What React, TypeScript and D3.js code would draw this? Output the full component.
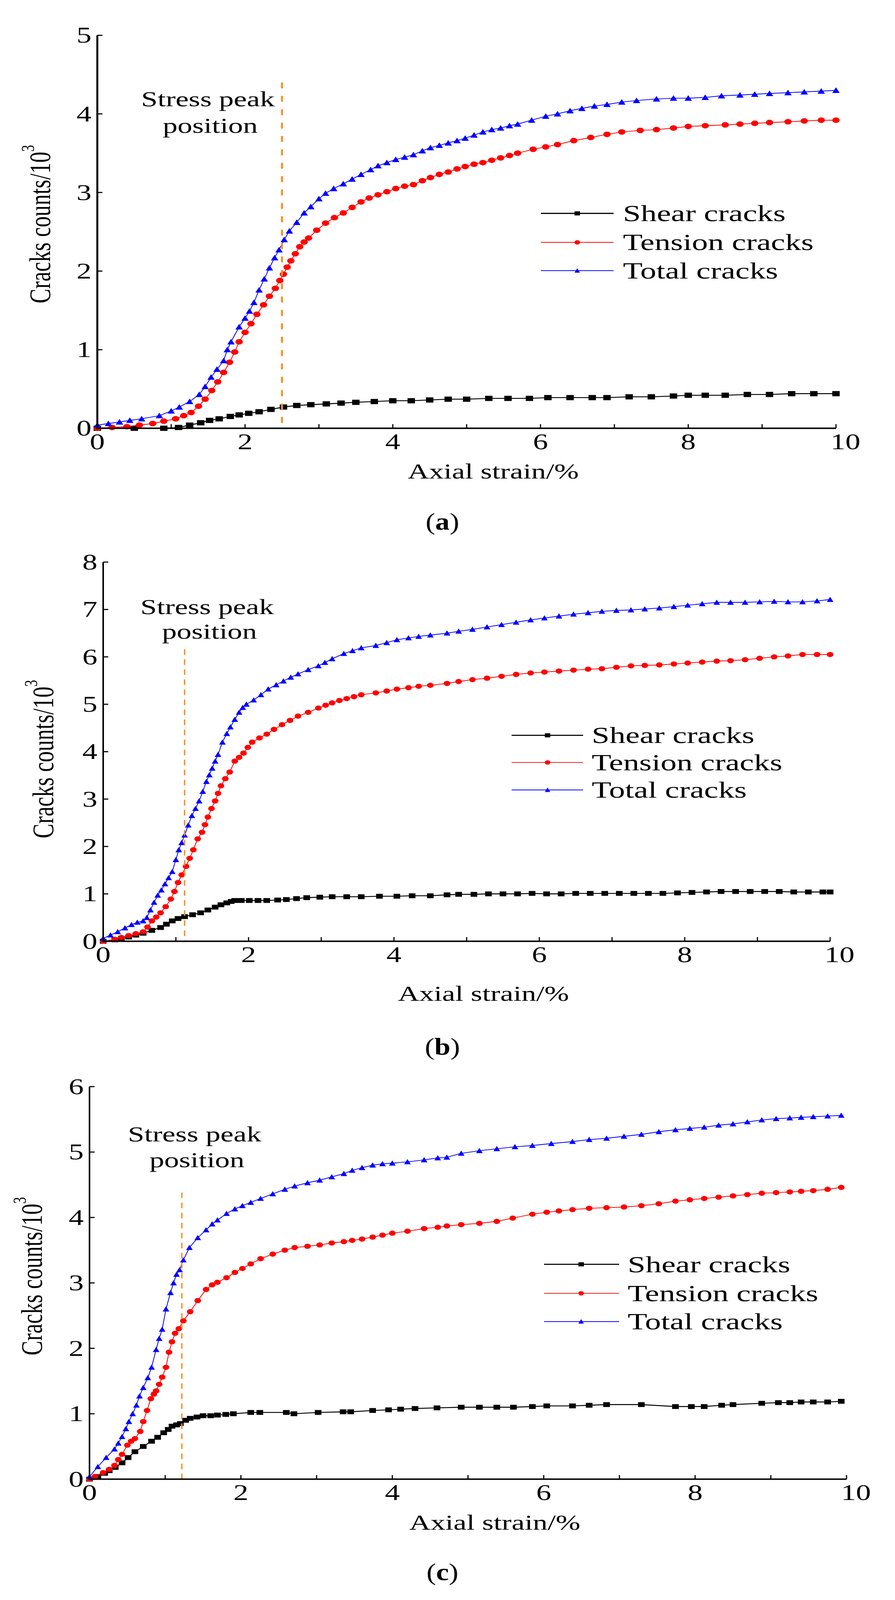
import * as d3 from 'd3';

type Pt = [number, number];

// ---- panel (a) ----
const aShear: Pt[] = [[0,0],[0.5,0],[0.9,0],[1.1,0.01],[1.25,0.04],[1.4,0.07],[1.52,0.1],[1.65,0.12],[1.8,0.15],[1.92,0.17],[2.05,0.19],[2.19,0.21],[2.35,0.24],[2.52,0.27],[2.7,0.29],[2.89,0.3],[3.1,0.31],[3.3,0.32],[3.5,0.33],[3.75,0.34],[4.0,0.35],[4.25,0.35],[4.5,0.36],[4.75,0.37],[5.0,0.37],[5.3,0.38],[5.56,0.38],[5.85,0.38],[6.1,0.39],[6.4,0.39],[6.7,0.39],[6.9,0.39],[7.2,0.4],[7.5,0.4],[7.8,0.41],[8.0,0.42],[8.23,0.42],[8.5,0.42],[8.8,0.43],[9.1,0.43],[9.4,0.44],[9.7,0.44],[10,0.44]];
const aTension: Pt[] = [[0,0],[0.2,0.01],[0.4,0.02],[0.57,0.04],[0.75,0.06],[0.9,0.09],[1.06,0.12],[1.17,0.16],[1.27,0.2],[1.37,0.28],[1.46,0.37],[1.55,0.48],[1.63,0.59],[1.71,0.71],[1.79,0.84],[1.86,0.97],[1.92,1.1],[2.0,1.22],[2.08,1.33],[2.16,1.45],[2.25,1.57],[2.33,1.68],[2.41,1.78],[2.47,1.88],[2.52,1.96],[2.57,2.05],[2.62,2.13],[2.68,2.22],[2.74,2.31],[2.8,2.37],[2.86,2.42],[2.97,2.52],[3.09,2.61],[3.21,2.68],[3.33,2.74],[3.45,2.81],[3.57,2.88],[3.68,2.93],[3.8,2.97],[3.92,3.01],[4.04,3.05],[4.16,3.08],[4.28,3.1],[4.4,3.15],[4.51,3.19],[4.63,3.23],[4.75,3.26],[4.87,3.3],[4.98,3.33],[5.1,3.36],[5.22,3.38],[5.34,3.41],[5.46,3.44],[5.58,3.47],[5.69,3.5],[5.9,3.55],[6.07,3.58],[6.23,3.61],[6.45,3.66],[6.68,3.7],[6.9,3.74],[7.1,3.77],[7.35,3.79],[7.57,3.8],[7.8,3.82],[8.0,3.84],[8.23,3.85],[8.5,3.86],[8.7,3.87],[8.9,3.88],[9.1,3.89],[9.35,3.9],[9.57,3.91],[9.8,3.92],[10,3.92]];
const aTotal: Pt[] = [[0,0.04],[0.15,0.06],[0.3,0.08],[0.44,0.1],[0.6,0.12],[0.84,0.16],[1.0,0.22],[1.11,0.27],[1.25,0.34],[1.38,0.43],[1.46,0.53],[1.54,0.65],[1.62,0.75],[1.71,0.86],[1.76,1.0],[1.81,1.1],[1.92,1.29],[2.0,1.4],[2.06,1.49],[2.12,1.6],[2.19,1.76],[2.26,1.9],[2.33,2.04],[2.4,2.17],[2.46,2.27],[2.53,2.4],[2.6,2.51],[2.7,2.62],[2.8,2.74],[2.89,2.82],[3.0,2.92],[3.09,2.99],[3.2,3.05],[3.33,3.11],[3.45,3.17],[3.57,3.23],[3.7,3.29],[3.8,3.34],[3.92,3.38],[4.04,3.42],[4.16,3.45],[4.28,3.48],[4.4,3.53],[4.51,3.57],[4.63,3.6],[4.75,3.63],[4.87,3.66],[4.98,3.69],[5.1,3.73],[5.22,3.77],[5.34,3.8],[5.46,3.82],[5.58,3.85],[5.69,3.87],[5.88,3.92],[6.07,3.97],[6.23,4.0],[6.4,4.04],[6.56,4.07],[6.73,4.1],[6.9,4.12],[7.1,4.15],[7.3,4.17],[7.57,4.19],[7.8,4.2],[8.0,4.2],[8.23,4.21],[8.45,4.23],[8.7,4.24],[8.9,4.25],[9.1,4.26],[9.35,4.27],[9.57,4.28],[9.8,4.29],[10,4.3]];

// ---- panel (b) ----
const bShear: Pt[] = [[0,0],[0.16,0.03],[0.25,0.06],[0.35,0.09],[0.45,0.13],[0.55,0.17],[0.67,0.23],[0.79,0.29],[0.87,0.36],[0.95,0.43],[1.03,0.48],[1.12,0.52],[1.23,0.56],[1.34,0.6],[1.44,0.66],[1.54,0.72],[1.62,0.77],[1.7,0.81],[1.76,0.84],[1.81,0.86],[1.9,0.86],[2.01,0.86],[2.13,0.86],[2.25,0.86],[2.4,0.87],[2.52,0.88],[2.66,0.9],[2.8,0.92],[2.98,0.93],[3.15,0.94],[3.35,0.94],[3.55,0.94],[3.8,0.95],[4.04,0.95],[4.25,0.96],[4.5,0.96],[4.73,0.98],[4.89,0.99],[5.1,0.99],[5.3,1.0],[5.5,1.0],[5.7,1.0],[5.9,1.01],[6.1,1.0],[6.3,1.0],[6.5,1.01],[6.7,1.01],[6.9,1.01],[7.1,1.01],[7.3,1.01],[7.5,1.01],[7.7,1.01],[7.9,1.02],[8.1,1.03],[8.3,1.04],[8.5,1.05],[8.7,1.05],[8.9,1.05],[9.1,1.05],[9.3,1.05],[9.5,1.04],[9.7,1.04],[9.9,1.04],[10,1.04]];
const bTension: Pt[] = [[0,0],[0.16,0.04],[0.25,0.08],[0.35,0.12],[0.45,0.16],[0.55,0.2],[0.61,0.3],[0.67,0.43],[0.73,0.51],[0.79,0.6],[0.86,0.73],[0.93,0.89],[0.98,1.05],[1.03,1.24],[1.08,1.4],[1.14,1.58],[1.19,1.75],[1.24,1.93],[1.3,2.16],[1.36,2.3],[1.4,2.46],[1.44,2.62],[1.49,2.8],[1.54,2.96],[1.58,3.12],[1.62,3.28],[1.68,3.43],[1.74,3.57],[1.81,3.8],[1.87,3.88],[1.93,3.97],[1.99,4.09],[2.05,4.2],[2.15,4.29],[2.25,4.37],[2.35,4.47],[2.46,4.57],[2.57,4.66],[2.68,4.75],[2.82,4.83],[2.96,4.92],[3.06,4.98],[3.15,5.03],[3.25,5.08],[3.35,5.12],[3.45,5.16],[3.55,5.2],[3.75,5.24],[3.9,5.28],[4.04,5.32],[4.2,5.35],[4.34,5.38],[4.5,5.4],[4.73,5.44],[4.89,5.48],[5.08,5.52],[5.28,5.55],[5.48,5.59],[5.68,5.63],[5.88,5.66],[6.07,5.68],[6.27,5.7],[6.47,5.72],[6.67,5.74],[6.86,5.75],[7.06,5.78],[7.26,5.81],[7.45,5.82],[7.65,5.83],[7.85,5.85],[8.04,5.87],[8.24,5.89],[8.44,5.91],[8.63,5.92],[8.83,5.94],[9.03,5.97],[9.23,6.0],[9.42,6.02],[9.62,6.05],[9.82,6.05],[10,6.05]];
const bTotal: Pt[] = [[0,0.06],[0.1,0.13],[0.2,0.2],[0.3,0.28],[0.39,0.35],[0.47,0.4],[0.55,0.43],[0.6,0.5],[0.65,0.66],[0.7,0.82],[0.75,0.97],[0.8,1.08],[0.85,1.21],[0.9,1.34],[0.95,1.47],[1.0,1.72],[1.04,1.93],[1.08,2.08],[1.12,2.24],[1.17,2.45],[1.22,2.65],[1.27,2.8],[1.32,2.96],[1.37,3.16],[1.42,3.37],[1.46,3.51],[1.5,3.65],[1.54,3.8],[1.58,3.94],[1.64,4.2],[1.7,4.38],[1.75,4.52],[1.81,4.68],[1.87,4.83],[1.92,4.93],[1.97,5.0],[2.07,5.09],[2.17,5.2],[2.27,5.32],[2.38,5.41],[2.48,5.49],[2.58,5.57],[2.68,5.64],[2.82,5.73],[2.96,5.81],[3.05,5.88],[3.15,5.96],[3.31,6.07],[3.43,6.13],[3.55,6.19],[3.75,6.24],[3.9,6.3],[4.04,6.36],[4.2,6.4],[4.34,6.43],[4.5,6.46],[4.73,6.5],[4.89,6.54],[5.08,6.58],[5.28,6.63],[5.48,6.68],[5.68,6.73],[5.88,6.78],[6.07,6.82],[6.27,6.86],[6.47,6.9],[6.67,6.93],[6.86,6.96],[7.06,6.98],[7.26,6.99],[7.45,7.01],[7.65,7.03],[7.85,7.06],[8.04,7.09],[8.24,7.12],[8.44,7.15],[8.63,7.15],[8.83,7.15],[9.03,7.16],[9.23,7.17],[9.42,7.16],[9.62,7.16],[9.82,7.18],[10,7.21]];

// ---- panel (c) ----
const cShear: Pt[] = [[0,0],[0.11,0.04],[0.2,0.09],[0.26,0.13],[0.34,0.18],[0.43,0.25],[0.51,0.33],[0.6,0.42],[0.71,0.5],[0.82,0.58],[0.9,0.64],[0.98,0.71],[1.04,0.76],[1.09,0.81],[1.15,0.83],[1.2,0.85],[1.27,0.9],[1.33,0.93],[1.42,0.95],[1.5,0.97],[1.6,0.97],[1.69,0.98],[1.8,0.99],[1.9,1.0],[2.13,1.02],[2.25,1.02],[2.6,1.02],[2.7,1.0],[3.02,1.02],[3.35,1.03],[3.45,1.03],[3.74,1.05],[3.95,1.06],[4.11,1.07],[4.3,1.08],[4.59,1.09],[4.91,1.1],[5.15,1.1],[5.38,1.1],[5.6,1.1],[5.85,1.11],[6.04,1.12],[6.38,1.12],[6.6,1.13],[6.83,1.14],[7.29,1.14],[7.74,1.11],[7.95,1.11],[8.12,1.11],[8.35,1.13],[8.5,1.14],[8.88,1.16],[9.1,1.17],[9.25,1.17],[9.4,1.18],[9.56,1.18],[9.75,1.18],[9.93,1.19]];
const cTension: Pt[] = [[0,0],[0.07,0.04],[0.18,0.1],[0.26,0.15],[0.33,0.21],[0.38,0.3],[0.43,0.38],[0.5,0.52],[0.55,0.58],[0.6,0.62],[0.67,0.73],[0.71,0.88],[0.76,1.05],[0.81,1.23],[0.85,1.3],[0.88,1.35],[0.92,1.45],[0.96,1.56],[1.01,1.71],[1.05,1.94],[1.09,2.1],[1.13,2.23],[1.18,2.3],[1.24,2.42],[1.33,2.56],[1.43,2.73],[1.54,2.9],[1.62,2.97],[1.69,3.01],[1.81,3.08],[1.92,3.16],[2.02,3.22],[2.13,3.29],[2.26,3.37],[2.42,3.44],[2.58,3.5],[2.71,3.54],[2.88,3.56],[3.04,3.58],[3.2,3.61],[3.36,3.63],[3.47,3.65],[3.6,3.67],[3.74,3.7],[3.87,3.73],[4.0,3.76],[4.2,3.79],[4.42,3.83],[4.6,3.85],[4.72,3.87],[4.91,3.89],[5.15,3.91],[5.38,3.94],[5.59,3.99],[5.85,4.05],[6.04,4.08],[6.2,4.1],[6.38,4.12],[6.6,4.14],[6.83,4.15],[7.06,4.16],[7.29,4.18],[7.52,4.21],[7.74,4.25],[7.93,4.27],[8.12,4.29],[8.31,4.31],[8.5,4.33],[8.69,4.35],[8.88,4.37],[9.07,4.38],[9.25,4.39],[9.4,4.4],[9.56,4.41],[9.75,4.43],[9.93,4.46]];
const cTotal: Pt[] = [[0,0.04],[0.11,0.19],[0.22,0.33],[0.33,0.46],[0.38,0.55],[0.43,0.65],[0.48,0.77],[0.52,0.88],[0.57,1.0],[0.62,1.13],[0.66,1.27],[0.71,1.4],[0.77,1.55],[0.82,1.71],[0.88,1.98],[0.92,2.15],[0.96,2.29],[1.01,2.6],[1.07,2.85],[1.11,3.0],[1.15,3.13],[1.19,3.2],[1.24,3.35],[1.32,3.54],[1.43,3.69],[1.54,3.81],[1.62,3.9],[1.69,3.96],[1.81,4.06],[1.92,4.13],[2.02,4.18],[2.13,4.23],[2.26,4.29],[2.42,4.36],[2.58,4.43],[2.71,4.48],[2.88,4.53],[3.04,4.57],[3.2,4.62],[3.36,4.67],[3.47,4.72],[3.6,4.76],[3.74,4.8],[3.87,4.82],[4.0,4.83],[4.2,4.85],[4.42,4.88],[4.6,4.91],[4.72,4.92],[4.91,4.98],[5.15,5.02],[5.38,5.05],[5.62,5.08],[5.85,5.1],[6.1,5.13],[6.38,5.16],[6.6,5.19],[6.83,5.21],[7.06,5.24],[7.29,5.27],[7.52,5.31],[7.74,5.34],[7.93,5.36],[8.12,5.38],[8.31,5.41],[8.5,5.43],[8.69,5.46],[8.88,5.49],[9.07,5.51],[9.25,5.52],[9.4,5.53],[9.56,5.54],[9.75,5.55],[9.93,5.56]];

const seriesNames = ['Shear cracks', 'Tension cracks', 'Total cracks'];
const seriesColors = ['#000000', '#ff0000', '#0000ff'];
const seriesShapes = ['square', 'circle', 'triangle'];
const peakStrain = [2.5, 1.12, 1.22];
const peakTop = [4.4, 6.16, 4.38];
const yMaxes = [5, 8, 6];
const panelLabels = ['a', 'b', 'c'];

const FONT = '"Liberation Serif", "Times New Roman", serif';
const SX = 1.3; // the source figure is stretched horizontally
const W = 2290;
const H = 4304;

function Txt({ x, y, size, anchor = 'middle', sx = SX, children }:
  { x: number; y: number; size: number; anchor?: string; sx?: number; children: any }) {
  return (
    <text transform={`translate(${x},${y}) scale(${sx},1)`} textAnchor={anchor} fontSize={size}
      fontFamily={FONT} fill="#000">{children}</text>
  );
}

function Marker({ shape, x, y, color, w = 18, h = 13 }: { shape: string; x: number; y: number; color: string; w?: number; h?: number }) {
  if (shape === 'square') return <rect x={x - w / 2} y={y - h / 2} width={w} height={h} fill={color} />;
  if (shape === 'circle') return <ellipse cx={x} cy={y} rx={w / 2} ry={h / 2 + 0.5} fill={color} />;
  return <path d={`M${x - w / 2},${y + h / 2}L${x + w / 2},${y + h / 2}L${x},${y - h / 2 - 1}Z`} fill={color} />;
}

type Layout = {
  left: number; right: number; top: number; bottom: number;
  axisW: number; dashW: number; dash: string;
  yLab: [number, number]; xTitle: [number, number]; caption: number;
  stress: [number, number, number];
  legend: { x0: number; x1: number; mk: number; tx: number; rows: number[] };
};

const layouts: Layout[] = [
  { left: 249, right: 2139, top: 95, bottom: 1152, axisW: 5, dashW: 5, dash: '16,20',
    yLab: [102, 603], xTitle: [1262, 1287], caption: 1425, stress: [532, 286, 357],
    legend: { x0: 1384, x1: 1570, mk: 1477, tx: 1594, rows: [574, 652, 728] } },
  { left: 264, right: 2124, top: 1512, bottom: 2532, axisW: 4, dashW: 3.5, dash: '15,12',
    yLab: [110, 2042], xTitle: [1237, 2692], caption: 2837, stress: [530, 1652, 1718],
    legend: { x0: 1309, x1: 1492, mk: 1401, tx: 1514, rows: [1978, 2051, 2125] } },
  { left: 229, right: 2166, top: 2923, bottom: 3979, axisW: 4, dashW: 3.5, dash: '15,12',
    yLab: [81, 3433], xTitle: [1266, 4115], caption: 4250, stress: [498, 3070, 3140],
    legend: { x0: 1392, x1: 1584, mk: 1487, tx: 1606, rows: [3401, 3479, 3555] } },
];

const panelData: Pt[][][] = [
  [aShear, aTension, aTotal],
  [bShear, bTension, bTotal],
  [cShear, cTension, cTotal],
];

function Panel({ idx }: { idx: number }) {
  const L = layouts[idx];
  const x = d3.scaleLinear().domain([0, 10]).range([L.left, L.right]);
  const y = d3.scaleLinear().domain([0, yMaxes[idx]]).range([L.bottom, L.top]);
  const line = d3.line<Pt>().x(d => x(d[0])).y(d => y(d[1]));
  const xt = x.ticks(10);
  const yt = y.ticks(yMaxes[idx]);
  const series = panelData[idx];
  const mw = idx === 0 ? 19 : 17;
  const mh = idx === 0 ? 14 : 13;

  return (
    <g>
      {series.map((pts, si) => (
        <g key={si}>
          <path d={line(pts) || ''} fill="none" stroke={seriesColors[si]} strokeWidth={si === 0 ? 2.5 : 2} />
          {pts.map((p, pi) => (
            <Marker key={pi} shape={seriesShapes[si]} x={x(p[0])} y={y(p[1])} color={seriesColors[si]} w={mw} h={mh} />
          ))}
        </g>
      ))}

      <line x1={x(peakStrain[idx])} x2={x(peakStrain[idx])} y1={y(peakTop[idx])} y2={y(0)}
        stroke="#ff8c1a" strokeWidth={L.dashW} strokeDasharray={L.dash} />
      <Txt x={L.stress[0]} y={L.stress[1]} size={58}>Stress peak</Txt>
      <Txt x={L.stress[0] + 6} y={L.stress[2]} size={58}>position</Txt>

      <line x1={x(0)} x2={x(0)} y1={y(0) + L.axisW / 2} y2={y(yMaxes[idx])} stroke="#000" strokeWidth={L.axisW} />
      <line x1={x(0)} x2={x(10)} y1={y(0)} y2={y(0)} stroke="#000" strokeWidth={4} />
      {xt.map(t => (
        <g key={'x' + t}>
          <line x1={x(t)} x2={x(t)} y1={y(0)} y2={y(0) - 11} stroke="#000" strokeWidth={3} />
          {t % 2 === 0 && (
            <Txt x={x(t) + (t === 10 ? 24 : 0)} y={y(0) + 56} size={59}>{String(t)}</Txt>
          )}
        </g>
      ))}
      {yt.map(t => (
        <g key={'y' + t}>
          <line x1={x(0)} x2={x(0) + 13} y1={y(t)} y2={y(t)} stroke="#000" strokeWidth={3} />
          <Txt x={x(0) - 15} y={y(t) + 20} size={59} anchor="end">{String(t)}</Txt>
        </g>
      ))}

      <text transform={`translate(${L.yLab[0]},${L.yLab[1]}) scale(${SX},1) rotate(-90)`} textAnchor="middle"
        fontSize={59} fontFamily={FONT} dominantBaseline="central" fill="#000">
        Cracks counts/10<tspan fontSize={36} dy={-24}>3</tspan>
      </text>
      <Txt x={L.xTitle[0]} y={L.xTitle[1]} size={58}>Axial strain/%</Txt>

      {seriesNames.map((n, si) => (
        <g key={n}>
          <line x1={L.legend.x0} x2={L.legend.x1} y1={L.legend.rows[si]} y2={L.legend.rows[si]}
            stroke={seriesColors[si]} strokeWidth={si === 0 ? 3 : 2} />
          <Marker shape={seriesShapes[si]} x={L.legend.mk} y={L.legend.rows[si]} color={seriesColors[si]} w={14} h={11} />
          <Txt x={L.legend.tx} y={L.legend.rows[si] + 21} size={63} anchor="start">{n}</Txt>
        </g>
      ))}

      <text transform={`translate(1132,${L.caption}) scale(1.15,1)`} textAnchor="middle" fontSize={64}
        fontFamily={FONT} fill="#000">
        (<tspan fontWeight="bold">{panelLabels[idx]}</tspan>)
      </text>
    </g>
  );
}

export default function App() {
  // fit the whole figure into the visible viewport height
  const vh = typeof window !== 'undefined' && window.innerHeight ? window.innerHeight : H;
  const outH = Math.min(H, vh, 4096);
  return (
    <div style={{ position: 'absolute', left: 0, top: 0, background: '#fff' }}>
      <svg width={W} height={outH} viewBox={`0 0 ${W} ${H}`} preserveAspectRatio="none" style={{ display: 'block' }}>
        <rect width={W} height={H} fill="#fff" />
        {[0, 1, 2].map(i => <Panel key={i} idx={i} />)}
      </svg>
    </div>
  );
}
